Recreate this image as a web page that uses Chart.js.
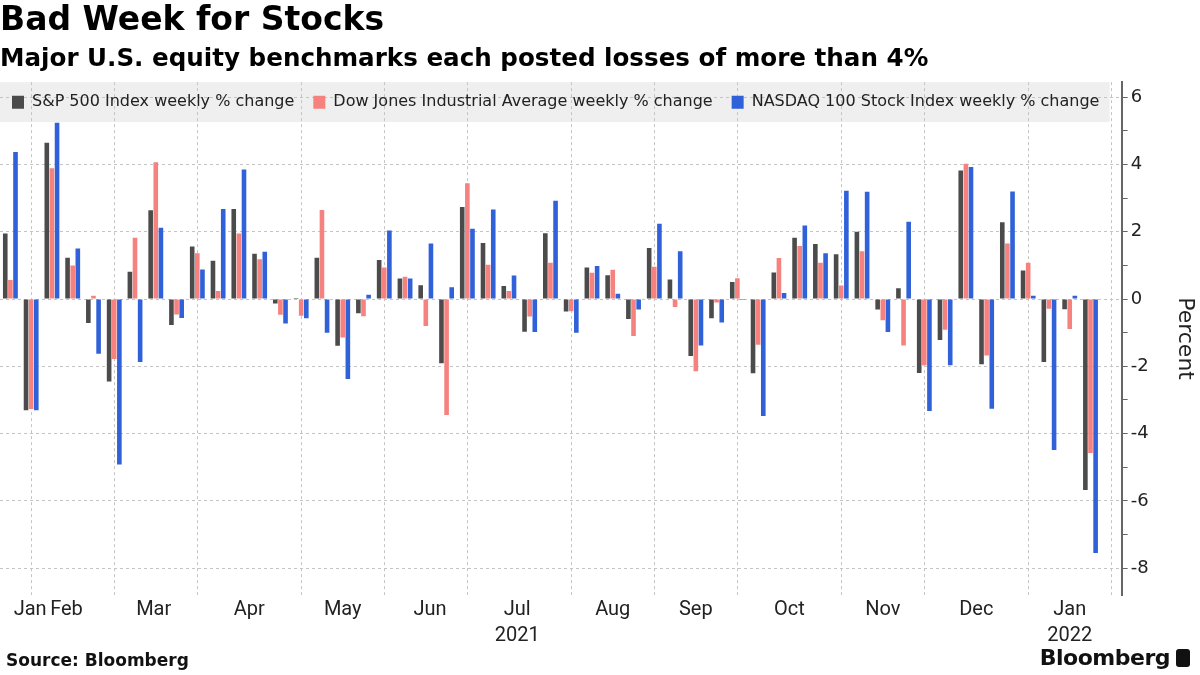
<!DOCTYPE html>
<html>
<head>
<meta charset="utf-8">
<script src="https://cdn.jsdelivr.net/npm/chart.js@4.4.1/dist/chart.umd.min.js"></script>
<style>
  body { margin: 0; background: #fff; }
  #wrap { position: relative; width: 1200px; height: 675px; }
  #source { position: absolute; left: 6px; top: 650px; font: bold 17px "DejaVu Sans", sans-serif; color: #111; }
  #logo { position: absolute; right: 10px; top: 645px; font: bold 22px "DejaVu Sans", sans-serif; color: #111; letter-spacing: -0.5px; }
  #logo span { display: inline-block; width: 14px; height: 18px; background: #111; border-radius: 3px; margin-left: 6px; vertical-align: -2px; }
</style>
</head>
<body>
<div id="wrap">
  <canvas id="weekly-chart"></canvas>
  <div id="source">Source: Bloomberg</div>
  <div id="logo">Bloomberg<span></span></div>
</div>
<script>
  // weeks ending Friday, last slot is empty
  var weeks = [
    '2021-01-22', '2021-01-29', '2021-02-05', '2021-02-12', '2021-02-19', '2021-02-26',
    '2021-03-05', '2021-03-12', '2021-03-19', '2021-03-26', '2021-04-02', '2021-04-09',
    '2021-04-16', '2021-04-23', '2021-04-30', '2021-05-07', '2021-05-14', '2021-05-21',
    '2021-05-28', '2021-06-04', '2021-06-11', '2021-06-18', '2021-06-25', '2021-07-02',
    '2021-07-09', '2021-07-16', '2021-07-23', '2021-07-30', '2021-08-06', '2021-08-13',
    '2021-08-20', '2021-08-27', '2021-09-03', '2021-09-10', '2021-09-17', '2021-09-24',
    '2021-10-01', '2021-10-08', '2021-10-15', '2021-10-22', '2021-10-29', '2021-11-05',
    '2021-11-12', '2021-11-19', '2021-11-26', '2021-12-03', '2021-12-10', '2021-12-17',
    '2021-12-24', '2021-12-31', '2022-01-07', '2022-01-14', '2022-01-21', '2022-01-28'
  ];

  var spx = [
    1.95, -3.31, 4.65, 1.23, -0.71, -2.45, 0.81, 2.64, -0.77, 1.56, 1.14, 2.68, 1.35, -0.13,
    0.03, 1.23, -1.39, -0.42, 1.16, 0.61, 0.41, -1.91, 2.74, 1.67, 0.39, -0.97, 1.96, -0.37,
    0.94, 0.71, -0.59, 1.52, 0.58, -1.69, -0.57, 0.51, -2.21, 0.79, 1.82, 1.64, 1.33, 2.0,
    -0.31, 0.32, -2.2, -1.22, 3.82, -1.94, 2.28, 0.85, -1.87, -0.3, -5.68, null
  ];
  var dow = [
    0.57, -3.27, 3.89, 1.0, 0.1, -1.78, 1.82, 4.07, -0.46, 1.36, 0.24, 1.95, 1.18, -0.47,
    -0.5, 2.65, -1.14, -0.51, 0.94, 0.66, -0.8, -3.45, 3.44, 1.02, 0.24, -0.52, 1.08, -0.36,
    0.78, 0.87, -1.1, 0.96, -0.24, -2.15, -0.1, 0.62, -1.36, 1.22, 1.58, 1.08, 0.4, 1.42,
    -0.63, -1.38, -1.97, -0.91, 4.02, -1.68, 1.65, 1.08, -0.29, -0.89, -4.58, null
  ];
  var ndx = [
    4.37, -3.31, 5.24, 1.5, -1.63, -4.92, -1.87, 2.12, -0.56, 0.88, 2.68, 3.85, 1.41, -0.73,
    -0.57, -1.0, -2.38, 0.13, 2.04, 0.61, 1.65, 0.35, 2.09, 2.66, 0.7, -0.98, 2.92, -1.0,
    0.98, 0.16, -0.31, 2.24, 1.42, -1.38, -0.7, -0.03, -3.48, 0.18, 2.19, 1.36, 3.22, 3.19,
    -0.98, 2.3, -3.33, -1.97, 3.93, -3.26, 3.2, 0.1, -4.49, 0.1, -7.55, null
  ];

  var monthLabels = ['Jan', 'Feb', 'Mar', 'Apr', 'May', 'Jun', 'Jul', 'Aug', 'Sep', 'Oct', 'Nov', 'Dec', 'Jan'];
  var yearLabels  = ['', '', '', '', '', '', '2021', '', '', '', '', '', '2022'];
  var monthTickPos = [0.95, 2.7, 6.9, 11.5, 16, 20.2, 24.4, 29, 33, 37.5, 42, 46.5, 51];

  // last week of each month gets a vertical grid line
  var monthEnds = weeks.map(function (w, i) {
    return i === weeks.length - 1 || weeks[i + 1].slice(5, 7) !== w.slice(5, 7);
  });

  var LEGEND_H = 40;

  // legend sits inside the plot, over its top band
  var legendBox = {
    id: 'legendBox',
    afterLayout: function (chart) {
      var lg = chart.legend;
      lg.left = -7;
      lg.top = chart.chartArea.top - 7;
      lg.bottom = chart.chartArea.top + LEGEND_H;
      lg.height = lg.bottom - lg.top;
    },
    beforeDraw: function (chart) {
      var ca = chart.chartArea, c = chart.ctx;
      c.save();
      c.fillStyle = '#efefef';
      c.fillRect(ca.left, ca.top, ca.right - 12 - ca.left, LEGEND_H);
      c.restore();
    }
  };

  var gridDash = '#c4c4c4';

  var config = {
    type: 'bar',
    data: {
      labels: weeks,
      datasets: [
        { label: 'S&P 500 Index weekly % change', data: spx, backgroundColor: '#4b4b4b' },
        { label: 'Dow Jones Industrial Average weekly % change', data: dow, backgroundColor: '#f5827f' },
        { label: 'NASDAQ 100 Stock Index weekly % change', data: ndx, backgroundColor: '#3161d8' }
      ]
    },
    options: {
      responsive: true,
      maintainAspectRatio: false,
      animation: false,
      datasets: { bar: { categoryPercentage: 0.74, barPercentage: 0.9, xAxisID: 'x' } },
      layout: { padding: { left: 0, right: 0, top: 0, bottom: 24 } },
      plugins: {
        title: {
          display: true, text: 'Bad Week for Stocks', align: 'start', color: '#000',
          font: { family: 'DejaVu Sans', size: 33, weight: 'bold', lineHeight: 1.2 },
          padding: { top: 2, bottom: 0 }
        },
        subtitle: {
          display: true, text: 'Major U.S. equity benchmarks each posted losses of more than 4%',
          align: 'start', color: '#000',
          font: { family: 'DejaVu Sans', size: 24.6, weight: 'bold', lineHeight: 1.2 },
          padding: { top: 3, bottom: 8 }
        },
        legend: {
          position: 'top', align: 'start', maxHeight: 0.01,
          labels: {
            boxWidth: 12, boxHeight: 13, padding: 19, color: '#222',
            font: { family: 'DejaVu Sans', size: 16 }
          }
        },
        tooltip: { enabled: false }
      },
      scales: {
        x: {
          type: 'category', offset: true, position: 'bottom',
          grid: {
            offset: false, drawTicks: false, lineWidth: 1,
            color: function (ctx) { return monthEnds[ctx.index] ? gridDash : 'transparent'; }
          },
          border: { display: false, dash: [3, 3] },
          ticks: { display: false, autoSkip: false }
        },
        xm: {
          type: 'linear', position: 'bottom', min: -0.5, max: 53.5, offset: false,
          grid: { display: false, drawTicks: false, offset: false },
          border: { display: false },
          afterBuildTicks: function (axis) {
            axis.ticks = monthTickPos.map(function (v) { return { value: v }; });
          },
          ticks: {
            autoSkip: false, maxRotation: 0, padding: 2, color: '#222',
            font: { family: 'Roboto', size: 20, lineHeight: 1.3 },
            callback: function (v, i) { return yearLabels[i] ? [monthLabels[i], yearLabels[i]] : monthLabels[i]; }
          }
        },
        y: {
          position: 'right', min: -8.8, max: 6.45,
          grid: {
            drawTicks: true, tickLength: 6, tickColor: '#666', tickBorderDash: [],
            color: function (ctx) { return ctx.tick && ctx.tick.value % 2 === 0 ? gridDash : 'transparent'; }
          },
          border: { display: true, color: '#666', width: 2, dash: [3, 3] },
          ticks: {
            stepSize: 1, includeBounds: false, padding: 3, color: '#222',
            font: { family: 'DejaVu Sans', size: 18 },
            callback: function (v) { return v % 2 === 0 ? v : ''; }
          },
          title: {
            display: true, text: 'Percent', color: '#222',
            font: { family: 'DejaVu Sans', size: 22 },
            padding: { top: 2, bottom: 20 }
          }
        }
      }
    },
    plugins: [legendBox]
  };

  window.onload = function () {
    var ctx = document.getElementById('weekly-chart').getContext('2d');
    window.weeklyChart = new Chart(ctx, config);
  };
</script>
</body>
</html>
